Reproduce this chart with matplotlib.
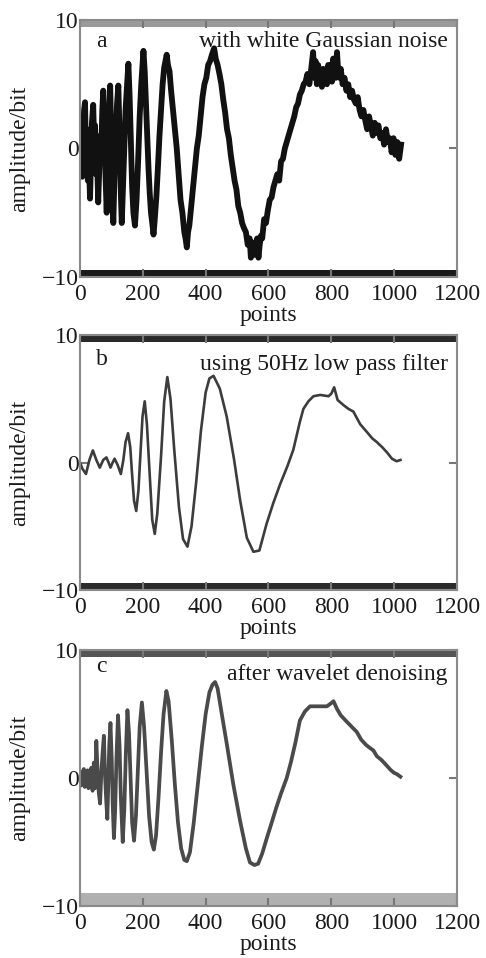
import matplotlib
matplotlib.use('Agg')
import matplotlib.pyplot as plt

plt.rcParams['font.family'] = ['Liberation Serif', 'DejaVu Serif']

x_ticks = [0, 200, 400, 600, 800, 1000, 1200]
y_ticks = [-10, 0, 10]

# panel a: signal with white Gaussian noise (noise included)
a_x = [0, 2, 4, 7, 10, 13, 16, 19, 22, 25, 28, 32, 35, 38, 42, 45, 48, 51, 54, 58,
       62, 65, 68, 71, 74, 78, 81, 85, 88, 92, 96, 99, 102, 106, 110, 114, 118, 122,
       126, 130, 133, 137, 141, 145, 150, 154, 158, 162, 166, 170, 175, 180, 185,
       190, 195, 199, 202, 206, 210, 214, 218, 222, 226, 230, 234, 238, 243, 248,
       253, 258, 263, 268, 272, 276, 280, 285, 290, 296, 302, 308, 314, 320, 326,
       332, 336, 340, 344, 348, 354, 360, 366, 372, 378, 384, 390, 396, 402, 408,
       414, 420, 427, 432, 438, 444, 450, 456, 462, 468, 474, 480, 486, 492, 498,
       504, 510, 516, 522, 528, 534, 540, 544, 548, 552, 556, 560, 564, 568, 572,
       576, 580, 586, 592, 598, 604, 610, 616, 622, 628, 634, 640, 646, 652, 658,
       664, 670, 676, 682, 688, 694, 700, 706, 712, 718, 724, 730, 736, 742, 746,
       750, 754, 758, 762, 766, 770, 774, 778, 782, 786, 790, 794, 798, 802, 806,
       810, 814, 818, 822, 826, 830, 836, 842, 848, 854, 860, 866, 872, 878, 884,
       890, 896, 902, 908, 914, 920, 926, 932, 938, 944, 950, 956, 962, 968, 974,
       980, 986, 992, 998, 1004, 1010, 1016, 1022]
a_y = [0.5, -1.5, 2.0, -2.2, 1.0, 3.0, 3.6, -0.5, 1.5, -2.5, -1.0, -3.9, -1.0, 2.0,
       3.4, 0.5, 1.8, -2.0, -0.5, -4.2, -1.0, 1.0, 0.0, 3.0, 4.5, 0.5, -2.0, -5.0,
       -1.5, 2.5, 4.9, 1.5, -2.5, -5.8, -2.0, 1.0, 3.5, 4.9, 1.0, -3.5, -5.8, -3.0,
       0.0, 3.0, 5.0, 6.6, 4.0, 0.5, -3.0, -5.0, -6.0, -4.0, -1.0, 2.5, 5.0, 6.5,
       7.6, 6.0, 3.5, 1.0, -1.5, -3.5, -5.0, -5.8, -6.7, -5.5, -3.8, -1.5, 1.0, 3.0,
       5.0, 6.3, 6.8, 7.3, 6.5, 6.0, 4.5, 3.0, 1.5, 0.0, -2.0, -4.0, -5.0, -6.5,
       -7.0, -7.7, -6.5, -6.0, -4.5, -3.0, -1.5, 0.0, 1.0, 2.5, 4.0, 5.0, 5.5, 6.5,
       6.8, 7.3, 7.8, 7.0, 6.5, 5.8, 5.0, 3.8, 2.8, 1.5, 0.8, -0.5, -1.5, -2.5,
       -3.2, -4.5, -5.0, -5.8, -6.2, -6.5, -7.5, -7.0, -8.5, -7.3, -8.3, -7.5,
       -8.0, -7.0, -8.5, -7.5, -6.8, -7.0, -5.5, -5.8, -4.8, -4.0, -3.8, -3.0,
       -2.5, -2.0, -2.5, -1.0, -0.8, 0.0, 0.5, 1.0, 1.5, 2.0, 2.5, 3.2, 3.5, 4.2,
       4.5, 5.0, 5.2, 5.8, 5.0, 6.2, 7.5, 5.5, 6.8, 5.0, 6.5, 5.5, 6.0, 4.8, 6.2,
       5.5, 6.0, 5.0, 6.5, 5.8, 6.5, 5.2, 7.0, 6.0, 5.5, 7.5, 6.0, 5.5, 6.2, 5.0,
       5.5, 4.5, 5.0, 4.0, 4.5, 3.8, 3.5, 4.0, 3.0, 2.5, 3.0, 2.2, 1.5, 2.5, 1.8,
       1.0, 2.0, 1.2, 1.8, 0.8, 1.2, 0.3, 1.5, 0.5, 0.8, -0.3, 0.8, -0.5, 0.5,
       -0.8, 0.3]

# panel b: after 50Hz low pass filter
b_x = [0, 8, 19, 30, 41, 52, 63, 74, 84, 91, 97, 104, 110, 120, 130, 138, 145, 153,
       160, 166, 172, 179, 186, 192, 199, 206, 213, 222, 230, 238, 246, 258, 268,
       278, 288, 300, 315, 328, 342, 355, 370, 385, 400, 412, 425, 445, 467, 490,
       510, 531, 552, 571, 594, 615, 637, 660, 679, 700, 711, 727, 743, 765, 791,
       800, 809, 820, 839, 855, 870, 892, 913, 930, 945, 962, 977, 993, 1008, 1020]
b_y = [0.0, -0.5, -0.9, 0.2, 0.95, 0.2, -0.4, 0.2, 0.4, 0.0, -0.4, 0.0, 0.3, -0.2,
       -0.9, 0.2, 1.6, 2.3, 1.2, -1.0, -3.0, -3.8, -2.2, 0.5, 3.6, 4.8, 3.0, -1.0,
       -4.5, -5.6, -4.0, 0.5, 4.8, 6.7, 5.0, 1.0, -3.5, -6.0, -6.6, -5.0, -1.5,
       2.5, 5.5, 6.6, 6.8, 5.8, 3.6, 0.3, -3.0, -5.9, -7.0, -6.9, -4.8, -3.2,
       -1.7, -0.3, 1.0, 3.2, 4.2, 4.8, 5.2, 5.3, 5.2, 5.4, 5.9, 4.9, 4.5, 4.2, 4.0,
       3.0, 2.4, 1.9, 1.6, 1.2, 0.8, 0.3, 0.1, 0.2]

# panel c: after wavelet denoising
c_x = [0, 3, 6, 9, 12, 15, 18, 21, 24, 27, 30, 33, 36, 40, 44, 48, 52, 56, 60, 64,
       68, 72, 76, 80, 84, 87, 90, 93, 97, 101, 104, 108, 112, 116, 121, 126, 130,
       136, 141, 146, 151, 156, 161, 166, 172, 178, 184, 190, 197, 204, 212, 220,
       228, 235, 242, 250, 258, 266, 275, 282, 292, 302, 312, 322, 332, 340, 350,
       362, 375, 388, 400, 412, 422, 430, 438, 450, 467, 488, 510, 528, 541, 555,
       567, 580, 594, 610, 625, 640, 658, 672, 686, 700, 716, 732, 760, 786, 797,
       807, 818, 830, 849, 865, 881, 895, 910, 920, 934, 945, 960, 977, 990, 1000,
       1009, 1020]
c_y = [0.3, -0.6, 0.5, -0.4, 0.7, -0.7, 0.2, -0.5, 0.6, -0.8, 0.4, -0.3, 0.8, -1.0,
       1.2, -0.8, 2.9, 0.5, -1.2, -2.0, 0.5, 2.0, 3.3, 0.0, -2.0, -3.2, -0.5, 2.5,
       4.3, 1.5, -2.0, -4.7, -2.5, 1.5, 4.9, 2.5, -1.5, -5.0, -2.5, 2.0, 5.3, 3.5,
       0.0, -3.5, -4.9, -3.0, 0.5, 4.0, 5.9, 4.0, 0.5, -3.0, -5.0, -5.6, -4.5,
       -1.5, 2.0, 5.0, 6.8, 6.0, 3.0, -0.5, -3.5, -5.5, -6.4, -6.5, -5.8, -3.5,
       -0.5, 2.5, 5.0, 6.7, 7.3, 7.5, 7.0, 5.2, 2.7, -0.5, -3.4, -5.5, -6.6, -6.8,
       -6.7, -5.9, -4.75, -3.5, -2.3, -1.2, 0.0, 1.3, 2.8, 4.5, 5.2, 5.6, 5.6, 5.6,
       5.8, 6.0, 5.4, 4.9, 4.4, 4.0, 3.6, 3.0, 2.6, 2.4, 2.15, 1.7, 1.4, 0.95, 0.6,
       0.4, 0.3, 0.1]

panels = [
    ('a', 'with white Gaussian noise', a_x, a_y, '#111111', 4.2, '#9a9a9a', '#1a1a1a'),
    ('b', 'using 50Hz low pass filter', b_x, b_y, '#3c3c3c', 1.9, '#2a2a2a', '#2a2a2a'),
    ('c', 'after wavelet denoising', c_x, c_y, '#4a4a4a', 2.7, '#555555', '#b0b0b0'),
]
# left, bottom, width, height in figure fractions
boxes = [[0.1646, 0.7109, 0.7757, 0.2682],
         [0.1646, 0.3841, 0.7757, 0.2662],
         [0.1646, 0.0543, 0.7757, 0.2672]]
label_pos = [(8.3, 8.3), (8.1, 7.7), (8.7, 8.1)]

fig = plt.figure(figsize=(4.86, 9.58), dpi=100)

for (tag, title, xs, ys, col, lw, top_col, bot_col), box, (ty1, ty2) in zip(panels, boxes, label_pos):
    ax = fig.add_axes(box)
    ax.plot(xs, ys, color=col, lw=lw, solid_joinstyle='round')
    ax.set_xlim(0, 1200)
    ax.set_ylim(-10, 10)
    # the heavy bands along top and bottom of each frame
    ax.axhspan(9.45, 10, color=top_col, lw=0)
    ax.axhspan(-10, -9.45 if tag != 'c' else -9.0, color=bot_col, lw=0)
    ax.set_xticks(x_ticks)
    ax.set_yticks(y_ticks)
    ax.tick_params(direction='in', top=True, right=True, length=6, width=1.5,
                   color='#777777', labelsize=17, labelcolor='#1a1a1a')
    ax.tick_params(axis='x', pad=5)
    ax.tick_params(axis='y', pad=1)
    for s in ax.spines.values():
        s.set_color('#8a8a8a')
        s.set_linewidth(1.5)
    ax.set_xlabel('points', fontsize=17, labelpad=0, color='#1a1a1a')
    ax.set_ylabel('amplitude/bit', fontsize=17, labelpad=8, color='#1a1a1a')
    ax.text(50, ty1, tag, fontsize=17, ha='left', va='center', color='#1a1a1a')
    ax.text(1170, ty2, title, fontsize=17, ha='right', va='center', color='#1a1a1a')

fig.savefig('out.png', dpi=100)
